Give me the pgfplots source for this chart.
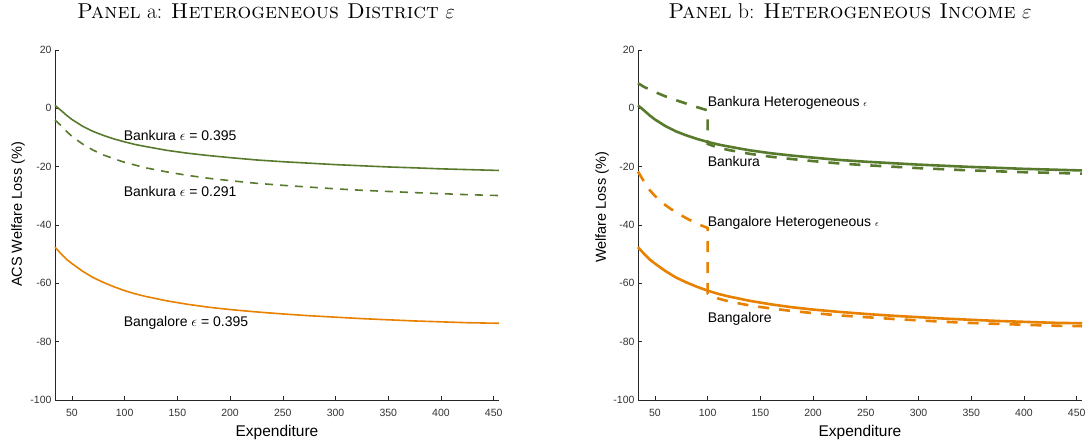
\documentclass[border=0pt]{standalone}
\usepackage{fontspec}
\newfontfamily\lsans{Liberation Sans}
\usepackage{pgfplots}
\pgfplotsset{compat=1.18}
\usepackage{pgfplotstable}
\definecolor{bgreen}{RGB}{88,122,45}
\definecolor{borange}{RGB}{232,128,0}

\pgfplotstableread{
x y
34 1.0
40 -0.8
45 -2.4
50 -3.8
60 -6.1
70 -7.9
80 -9.3
90 -10.5
100 -11.5
110 -12.4
120 -13.1
140 -14.4
160 -15.4
180 -16.2
200 -16.9
225 -17.7
250 -18.3
275 -18.8
300 -19.3
325 -19.7
350 -20.1
375 -20.4
400 -20.75
425 -21.0
455 -21.3
}\bankura

\pgfplotstableread{
x y
34 -4.0
40 -6.0
45 -7.9
50 -9.6
60 -12.2
70 -14.3
80 -16.0
90 -17.3
100 -18.5
120 -20.4
140 -21.8
160 -23.0
180 -24.0
200 -24.8
225 -25.7
250 -26.4
275 -27.0
300 -27.6
325 -28.1
350 -28.5
375 -28.9
400 -29.25
425 -29.6
455 -29.9
}\bankuralow

\pgfplotstableread{
x y
34 -47.6
40 -50.0
45 -51.8
50 -53.2
60 -55.8
70 -58.0
80 -59.7
90 -61.2
100 -62.5
110 -63.6
120 -64.5
140 -66.0
160 -67.2
180 -68.2
200 -69.0
225 -69.8
250 -70.5
275 -71.1
300 -71.6
325 -72.1
350 -72.5
375 -72.9
400 -73.2
425 -73.5
455 -73.7
}\bangalore

\pgfplotstableread{
x y
34 8.6
40 7.3
50 5.6
60 4.1
70 2.8
80 1.6
90 0.4
100 -0.7
100 -12.2
110 -13.5
120 -14.3
140 -15.6
160 -16.6
180 -17.4
200 -18.1
225 -18.9
250 -19.5
275 -20.0
300 -20.5
325 -20.9
350 -21.3
375 -21.6
400 -21.9
425 -22.1
455 -22.4
}\bankurahet

\pgfplotstableread{
x y
34 -21.7
40 -25.3
45 -28.0
50 -30.0
60 -33.2
70 -35.7
80 -37.7
90 -39.6
100 -41.0
100 -63.5
110 -65.2
120 -66.2
140 -67.6
160 -68.6
180 -69.5
200 -70.2
225 -71.0
250 -71.6
275 -72.2
300 -72.7
325 -73.2
350 -73.6
375 -73.9
400 -74.2
425 -74.5
455 -74.7
}\bangalorehet

\pgfplotsset{
  panel/.style={
    scale only axis, width=444pt, height=350pt,
    xmin=34, xmax=455, ymin=-100, ymax=20,
    axis x line*=bottom, axis y line*=left,
    axis line style={-, black!85, line width=0.6pt},
    tick align=inside, major tick length=4pt,
    tick style={black!85, line width=0.6pt},
    xtick={50,100,...,450}, ytick={-100,-80,...,20},
    /pgf/number format/assume math mode=true,
    ticklabel style={font=\lsans\fontsize{10.5}{12}\selectfont, text=black!80},
    xticklabel style={yshift=-5.5pt},
    xlabel style={at={(axis description cs:0.5,-0.0914)}, anchor=center, font=\lsans\fontsize{15.5}{18}\selectfont},
    ylabel style={font=\lsans\fontsize{14.5}{17}\selectfont},
    clip=false,
  },
}
\tikzset{lab/.style={anchor=west, font=\lsans\fontsize{14}{16}\selectfont, inner sep=0pt}}

\begin{document}
\begin{tikzpicture}
\useasboundingbox (0,0) rectangle (1090pt,445pt);
\node[font=\fontsize{21.5}{24}\selectfont] at (266pt,434pt) {\textsc{Panel} \textnormal{a}: \textsc{Heterogeneous District} $\varepsilon$};
\node[font=\fontsize{21.5}{24}\selectfont] at (850pt,434pt) {\textsc{Panel} \textnormal{b}: \textsc{Heterogeneous Income} $\varepsilon$};

\begin{axis}[panel, at={(55pt,45pt)}, anchor=south west,
  xlabel={Expenditure}, ylabel={ACS Welfare Loss (\%)},
  ylabel style={at={(axis description cs:-0.083,0.53)}, anchor=center}]
\addplot[bgreen, line width=1.6pt] table[x=x,y=y] {\bankura};
\addplot[bgreen, line width=1.6pt, dash pattern=on 8pt off 7pt] table[x=x,y=y] {\bankuralow};
\addplot[borange, line width=1.6pt] table[x=x,y=y] {\bangalore};
\node[lab] at (axis cs:99,-9.2) {Bankura $\epsilon$ = 0.395};
\node[lab] at (axis cs:99,-28.6) {Bankura $\epsilon$ = 0.291};
\node[lab] at (axis cs:99,-73.5) {Bangalore $\epsilon$ = 0.395};
\end{axis}

\begin{axis}[panel, at={(638pt,45pt)}, anchor=south west,
  xlabel={Expenditure}, ylabel={Welfare Loss (\%)},
  ylabel style={at={(axis description cs:-0.081,0.55)}, anchor=center}]
\addplot[bgreen, line width=2.6pt] table[x=x,y=y] {\bankura};
\addplot[borange, line width=2.6pt] table[x=x,y=y] {\bangalore};
\addplot[bgreen, line width=2.6pt, dash pattern=on 11pt off 10pt] table[x=x,y=y] {\bankurahet};
\addplot[borange, line width=2.6pt, dash pattern=on 11pt off 10pt] table[x=x,y=y] {\bangalorehet};
\node[lab] at (axis cs:100,1.9) {Bankura Heterogeneous {\small$\epsilon$}};
\node[lab] at (axis cs:100,-18.3) {Bankura};
\node[lab] at (axis cs:100,-39.4) {Bangalore Heterogeneous {\small$\epsilon$}};
\node[lab] at (axis cs:100,-72.3) {Bangalore};
\end{axis}
\end{tikzpicture}
\end{document}
